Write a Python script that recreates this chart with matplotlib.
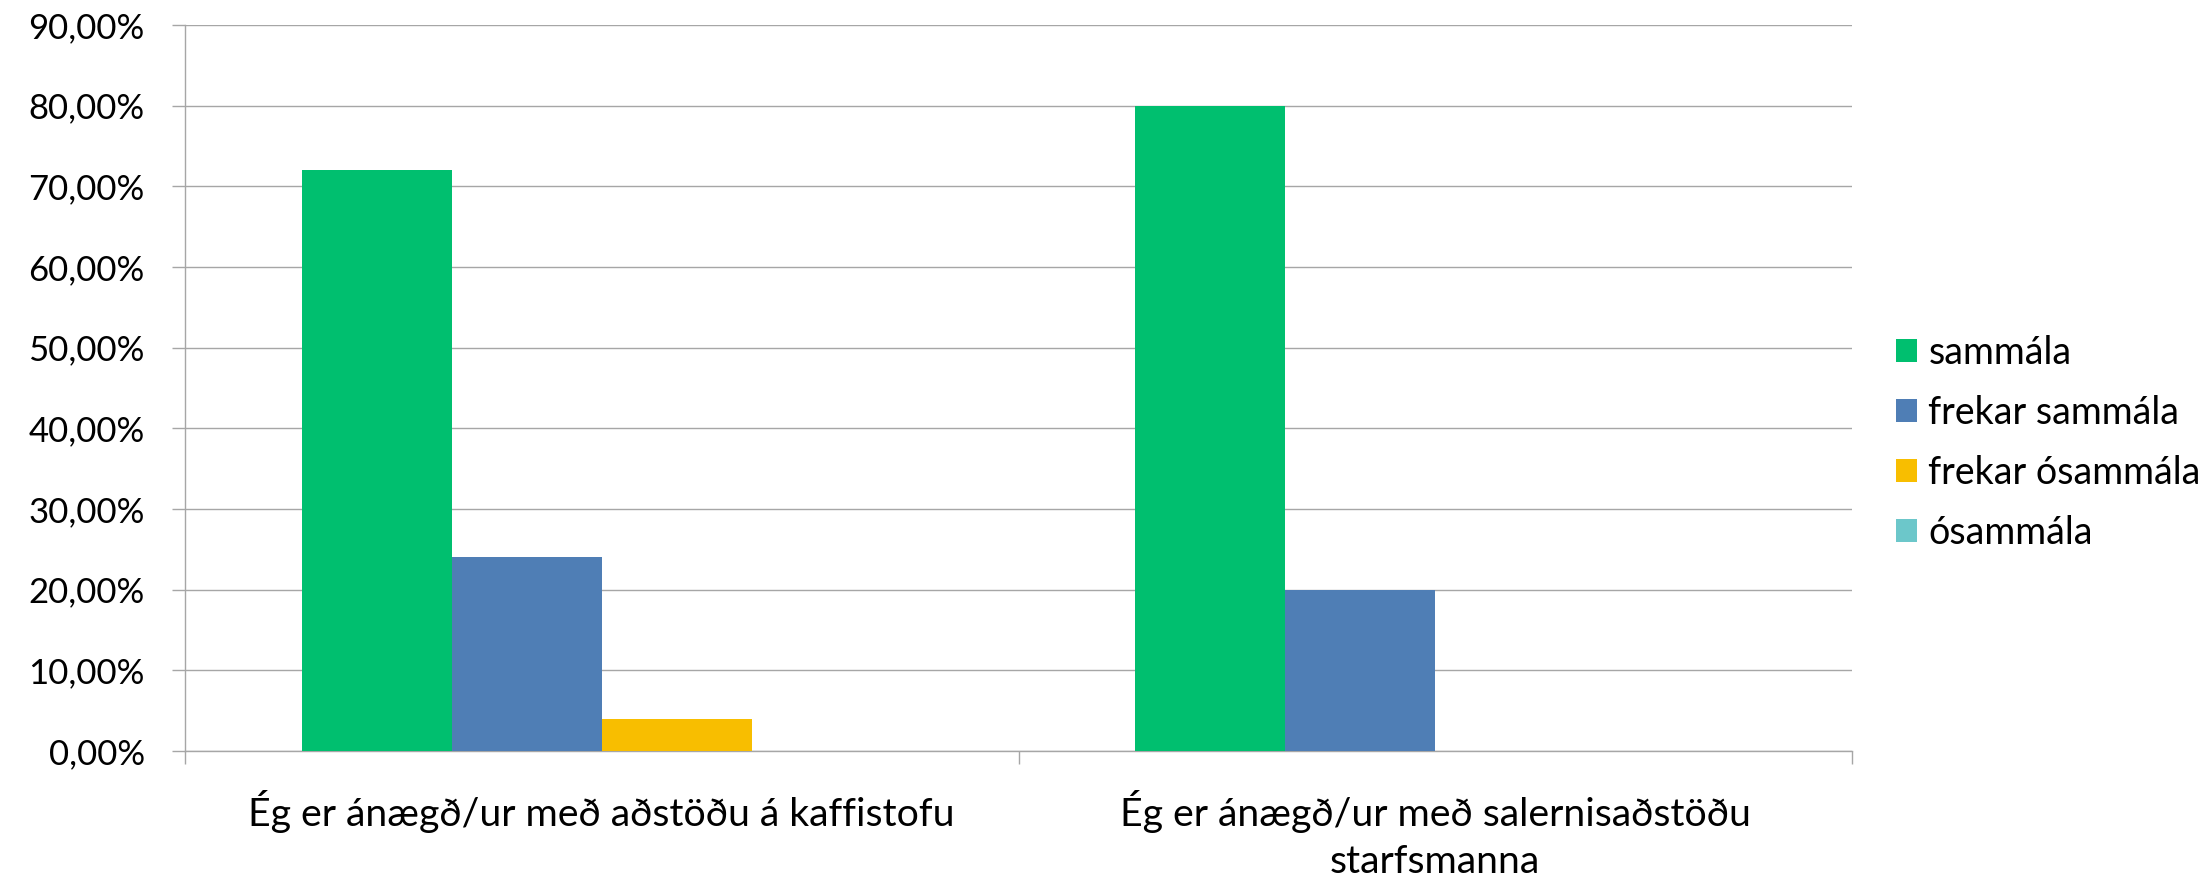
import numpy as np
import matplotlib
matplotlib.use("Agg")
import matplotlib.pyplot as plt
from matplotlib.ticker import FuncFormatter

# data
categories = ["Ég er ánægð/ur með aðstöðu á kaffistofu",
              "Ég er ánægð/ur með salernisaðstöðu\nstarfsmanna"]
series = ["sammála", "frekar sammála", "frekar ósammála", "ósammála"]
sammala = [72, 80]
frekar_sammala = [24, 20]
frekar_osammala = [4, 0]
osammala = [0, 0]
values = [sammala, frekar_sammala, frekar_osammala, osammala]
colors = ["#00BF6F", "#4F7EB5", "#F8BE00", "#6CC7CA"]

plt.rcParams['font.family'] = ['Lato', 'DejaVu Sans']

fig = plt.figure(figsize=(22.06, 8.77), dpi=100)
ax = fig.add_axes([185 / 2206, 1 - 751 / 877, (1852 - 185) / 2206, (751 - 25) / 877])

bw = 0.18
x = np.arange(len(categories))
for i, (name, vals) in enumerate(zip(series, values)):
    ax.bar(x - 0.36 + bw * (i + 0.5), vals, width=bw, color=colors[i],
           label=name, zorder=3)

ax.set_xlim(-0.5, len(categories) - 0.5)
ax.set_ylim(0, 90)
ax.set_yticks(np.arange(0, 91, 10))
ax.yaxis.set_major_formatter(FuncFormatter(lambda v, p: f"{v:.2f}%".replace(".", ",")))
ax.yaxis.grid(True, color="#A6A6A6", linewidth=1.0, zorder=0)

ax.set_xticks([-0.5, 0.5, 1.5])
ax.set_xticklabels([])
ax.set_xticks(x, minor=True)
ax.set_xticklabels(categories, minor=True, fontsize=28.3, linespacing=1.4)
ax.tick_params(axis="x", which="minor", length=0, pad=28)
ax.tick_params(axis="x", which="major", length=9.4, width=1.0, color="#A6A6A6")
ax.tick_params(axis="y", length=9.4, width=1.0, color="#A6A6A6", labelsize=25, pad=19.5)

for s in ["top", "right"]:
    ax.spines[s].set_visible(False)
for s in ["left", "bottom"]:
    ax.spines[s].set_color("#A6A6A6")
    ax.spines[s].set_linewidth(1.0)

leg = fig.legend(loc="center left", bbox_to_anchor=(1896 / 2206, 1 - 443 / 877),
                 frameon=False, fontsize=27, handlelength=0.57, handleheight=0.57,
                 handletextpad=0.29, labelspacing=0.64, borderpad=0, borderaxespad=0)

fig.savefig("out.png", dpi=100)
